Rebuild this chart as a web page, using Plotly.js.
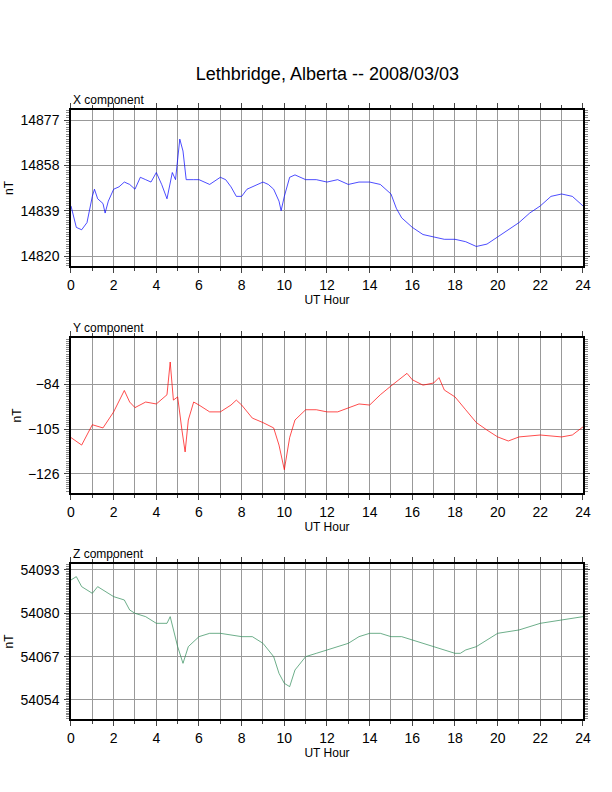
<!DOCTYPE html>
<html><head><meta charset="utf-8">
<script src="https://cdn.plot.ly/plotly-3.0.1.min.js"></script>
<style>body{margin:0}</style></head>
<body><div id="chart" style="width:612px;height:792px"></div>
<script>
var xTime = [0,0.25,0.5,0.75,1.0,1.1,1.25,1.5,1.6,1.75,2.0,2.25,2.5,2.75,3.0,3.25,3.5,3.75,4.0,4.25,4.5,4.75,4.9,5.0,5.1,5.25,5.4,5.75,6,6.5,7.0,7.25,7.5,7.75,8,8.25,8.5,8.75,9,9.25,9.5,9.75,9.85,10,10.25,10.5,11,11.5,12,12.5,13,13.5,14,14.5,15,15.25,15.5,16,16.5,17,17.5,18,18.5,19,19.5,20,20.5,21,21.5,22,22.5,23,23.5,23.75,24];
var xVals = [14841,14832,14831,14834,14845,14848,14844,14842,14838,14843,14848,14849,14851,14850,14848,14853,14852,14851,14855,14850,14844,14855,14852,14862,14869,14864,14852,14852,14852,14850,14853,14852,14849,14845,14845,14848,14849,14850,14851,14850,14848,14843,14839,14845,14853,14854,14852,14852,14851,14852,14850,14851,14851,14850,14846,14840,14836,14832,14829,14828,14827,14827,14826,14824,14825,14828,14831,14834,14838,14841,14845,14846,14845,14843,14841];
var yTime = [0,0.5,1.0,1.5,2,2.5,2.75,3,3.5,4,4.5,4.65,4.8,5.0,5.2,5.35,5.5,5.75,6,6.5,7,7.5,7.75,8,8.5,9,9.5,9.75,10,10.25,10.5,11,11.5,12,12.5,13,13.5,14,14.5,15,15.5,15.75,16,16.5,17,17.25,17.5,18,18.5,19,19.5,20,20.5,21,22,23,23.5,24];
var yVals = [-109,-112.5,-103,-104.5,-97,-87,-92.4,-95,-92.4,-93.3,-89,-73.7,-91.5,-90,-105.5,-115.7,-100.8,-92.4,-93.8,-97,-97,-93.8,-91.5,-93.8,-99.9,-102,-104.5,-112.5,-124,-109,-100.8,-96,-96,-97,-97,-95.2,-93.3,-93.8,-89,-84.9,-81,-79,-82,-84.5,-83.5,-81,-86.8,-90,-96,-102,-105.5,-108.7,-110.6,-108.7,-107.8,-108.7,-107.8,-104];
var zTime = [0,0.25,0.5,1,1.25,1.5,2,2.5,2.75,3,3.5,4,4.5,4.65,4.8,5.0,5.25,5.5,6,6.5,7,8,8.5,9,9.5,9.75,10.0,10.25,10.5,11,11.5,12,12.5,13,13.5,14,14.5,15,15.5,16,16.5,17,17.5,18,18.25,18.5,19,19.5,20,21,22,23,24];
var zVals = [54090,54091,54088,54086,54088,54087,54085,54084,54081,54080,54079,54077,54077,54079,54075,54070,54065,54070,54073,54074,54074,54073,54073,54071,54067,54062,54059,54058,54063,54067,54068,54069,54070,54071,54073,54074,54074,54073,54073,54072,54071,54070,54069,54068,54068,54069,54070,54072,54074,54075,54077,54078,54079];
var xTicks = [14820,14839,14858,14877];
var yTicks = [-126,-105,-84];
var zTicks = [54054,54067,54080,54093];

var panels = [
  {t: xTime, v: xVals, ticks: xTicks, range: [14815.8, 14881.2], color: "#0000ff", name: "X component", dom: [0.6641, 0.8611]},
  {t: yTime, v: yVals, ticks: yTicks, range: [-134.9, -62.5], color: "#ff0000", name: "Y component", dom: [0.3775, 0.5732]},
  {t: zTime, v: zVals, ticks: zTicks, range: [54048.3, 54094.8], color: "#2e8b57", name: "Z component", dom: [0.0922, 0.2879]}
];

var font = {family: "Liberation Sans, Arial, sans-serif", size: 14, color: "#000"};
var data = [];
var layout = {
  width: 612, height: 792, showlegend: false,
  margin: {t: 0, r: 0, l: 0, b: 0},
  paper_bgcolor: "#fff", plot_bgcolor: "#fff",
  font: font,
  title: {text: "Lethbridge, Alberta -- 2008/03/03", x: 0.535, y: 0.915, font: {family: font.family, size: 18}},
  annotations: []
};
panels.forEach(function (p, i) {
  var n = i + 1;
  var xa = "xaxis" + (n === 1 ? "" : n), ya = "yaxis" + (n === 1 ? "" : n);
  data.push({x: p.t, y: p.v, type: "scatter", mode: "lines", xaxis: "x" + n, yaxis: "y" + n,
    line: {color: p.color, width: 0.7}});
  layout[xa] = {
    domain: [0.116, 0.9526], anchor: "y" + n, range: [0, 24],
    tickvals: [0, 2, 4, 6, 8, 10, 12, 14, 16, 18, 20, 22, 24], ticks: "outside", ticklen: 5,
    showgrid: false, zeroline: false, showline: true, linecolor: "#000", linewidth: 1.5, mirror: "ticks",
    minor: {dtick: 1, ticks: "outside", ticklen: 3, showgrid: true, gridcolor: "#999", gridwidth: 1},
    title: {text: "UT Hour", font: {size: 12}, standoff: 2},
    tickfont: {size: 14}
  };
  layout[ya] = {
    domain: p.dom, anchor: "x" + n, range: p.range,
    tickvals: p.ticks, tickformat: "d", ticks: "outside", ticklen: 5, ticklabelstandoff: 2,
    showgrid: true, gridcolor: "#999", gridwidth: 1, zeroline: false,
    showline: true, linecolor: "#000", linewidth: 1.5, mirror: "ticks",
    minor: {nticks: 20, ticks: "outside", ticklen: 3, showgrid: false, tickcolor: "#888"},
    title: {text: "nT", font: {size: 12}, standoff: 4},
    tickfont: {size: 14}
  };
  layout.annotations.push({text: p.name, xref: "paper", yref: "paper", x: 0.116, y: p.dom[1],
    xanchor: "left", yanchor: "bottom", yshift: 1, showarrow: false, font: {size: 12}});
});
Plotly.newPlot("chart", data, layout, {displayModeBar: false});
</script></body></html>
